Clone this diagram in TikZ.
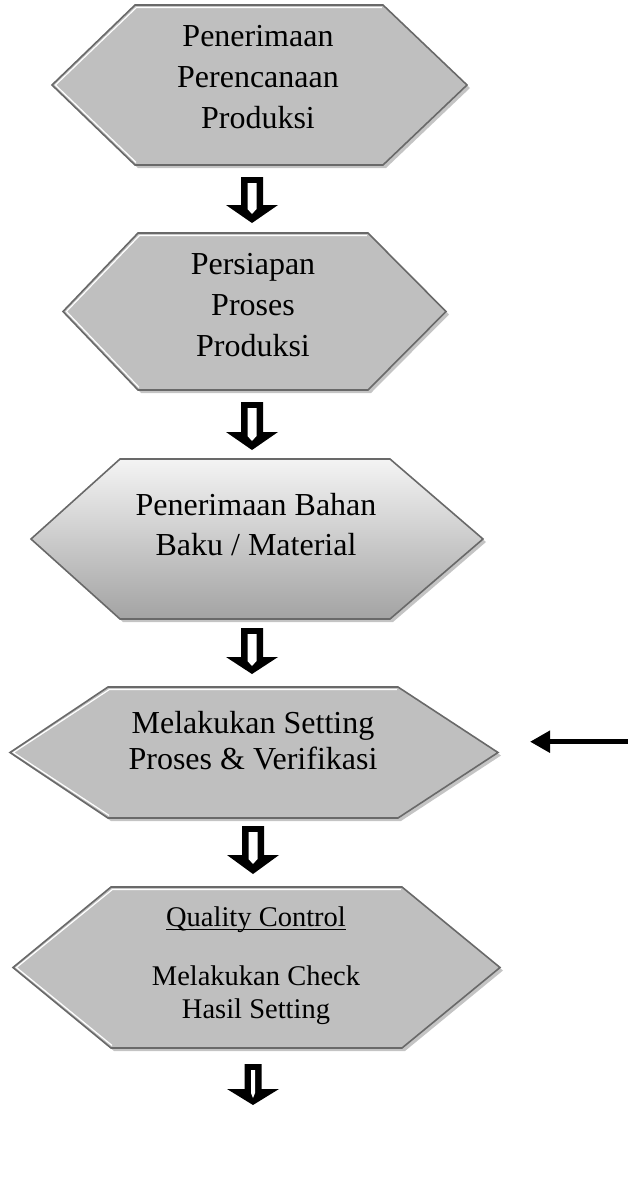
\documentclass[tikz,border=0pt]{standalone}
\usepackage{fontspec}
\setmainfont{Liberation Serif}
\usetikzlibrary{arrows.meta}

\definecolor{hexfill}{RGB}{191,191,191}
\definecolor{hexline}{RGB}{105,105,105}
\definecolor{hexshade}{RGB}{196,196,196}
\definecolor{gradtop}{RGB}{244,244,244}
\definecolor{gradbot}{RGB}{163,163,163}

\tikzset{
  hexborder/.style={draw=hexline, line width=1.6pt, line join=miter},
  flatfill/.style={fill=hexfill},
  gradfill/.style={top color=gradtop, bottom color=gradbot},
  steptext/.style={anchor=north, inner sep=0pt, outer sep=0pt, align=center},
  feedarrow/.style={line width=5.5pt, -{Triangle[length=20pt,width=21pt]}}
}

% hexagonal step: name, left tip x, inner left x, inner right x, right tip x,
% top y, bottom y, fill style, highlight colour
\newcommand\drawhex[9]{%
  \pgfmathsetmacro\hexmid{(#6+#7)/2}%
  \pgfmathsetmacro\hexw{#5-#2}%
  \pgfmathsetmacro\hexh{#7-#6}%
  \fill[hexshade] (#2+3,\hexmid+3) -- (#3+3,#6+3) -- (#4+3,#6+3) -- (#5+3,\hexmid+3)
    -- (#4+3,#7+3) -- (#3+3,#7+3) -- cycle;
  \path[#8] (#2,\hexmid) -- (#3,#6) -- (#4,#6) -- (#5,\hexmid) -- (#4,#7) -- (#3,#7) -- cycle;
  \draw[draw=#9, line width=1.2pt] (#3+1,#7-2.6) -- (#2+3.4,\hexmid) -- (#3+1.4,#6+2.5) -- (#4-1.2,#6+2.5);
  \draw[hexborder] (#2,\hexmid) -- (#3,#6) -- (#4,#6) -- (#5,\hexmid) -- (#4,#7) -- (#3,#7) -- cycle;
  \node[inner sep=0pt, outer sep=0pt, minimum width=\hexw pt, minimum height=\hexh pt]
    (#1) at ({(#2+#5)/2},\hexmid) {};
}

% hollow block arrow: name, centre x, top y, head y, tip y, stem half width
\newcommand\blockarrow[6]{%
  \coordinate (#1) at (#2,#3);
  \fill[black] (#2-#6,#3) -- (#2+#6,#3) -- (#2+#6,#4) -- (#2+26,#4) -- (#2,#5)
    -- (#2-26,#4) -- (#2-#6,#4) -- cycle;
  \fill[white] (#2-#6+6.5,#3+6) -- (#2+#6-6.5,#3+6) -- (#2+#6-6.5,#4+4)
    -- (#2,#4+9) -- (#2-#6+6.5,#4+4) -- cycle;
}

% underline set close under the baseline
\newcommand\qcunderline[1]{\setbox0\hbox{#1}\rlap{\rule[-3.9pt]{\wd0}{1.3pt}}\box0}

\begin{document}
\begin{tikzpicture}[x=1pt,y=-1pt]
  \useasboundingbox (0,0) rectangle (628,1187);

  % process steps
  \drawhex{h1}{52}{135}{383}{467}{5}{165}{flatfill}{white}
  \drawhex{h2}{63}{138}{368}{446}{233}{390}{flatfill}{white}
  \drawhex{h3}{31}{120}{390}{483}{459}{619}{gradfill}{none}
  \drawhex{h4}{10}{108}{398}{498}{687}{818}{flatfill}{white}
  \drawhex{h5}{13}{111}{402}{500}{887}{1048}{flatfill}{white}

  % step labels
  \node[steptext, font=\fontsize{32}{41}\selectfont] (t1) at (258,18)
    {\strut Penerimaan\\\strut Perencanaan\\\strut Produksi};
  \node[steptext, font=\fontsize{32}{41}\selectfont] (t2) at (253,245.3)
    {\strut Persiapan\\\strut Proses\\\strut Produksi};
  \node[steptext, font=\fontsize{32}{40}\selectfont] (t3) at (256,487)
    {\strut Penerimaan Bahan\\\strut Baku / Material};
  \node[steptext, font=\fontsize{32}{36}\selectfont] (t4) at (253,707.8)
    {\strut Melakukan Setting\\\strut Proses \& Verifikasi};
  \node[steptext, font=\fontsize{28.5}{33}\selectfont] (t5) at (256,902.9)
    {\strut\qcunderline{Quality Control}\\[26pt]\strut Melakukan Check\\\strut Hasil Setting};

  % flow arrows between the steps
  \blockarrow{a1}{252}{177}{205}{223}{11}
  \blockarrow{a2}{252}{402}{432}{450}{11}
  \blockarrow{a3}{252}{628}{657}{674}{11}
  \blockarrow{a4}{253}{826}{855}{874}{11}
  \blockarrow{a5}{253}{1064}{1089}{1105}{8.5}

  % incoming arrow at the setting step
  \coordinate (feed) at (628,741.7);
  \coordinate (feedtip) at (530,741.7);
  \draw[feedarrow] (feed) -- (feedtip);
\end{tikzpicture}
\end{document}
